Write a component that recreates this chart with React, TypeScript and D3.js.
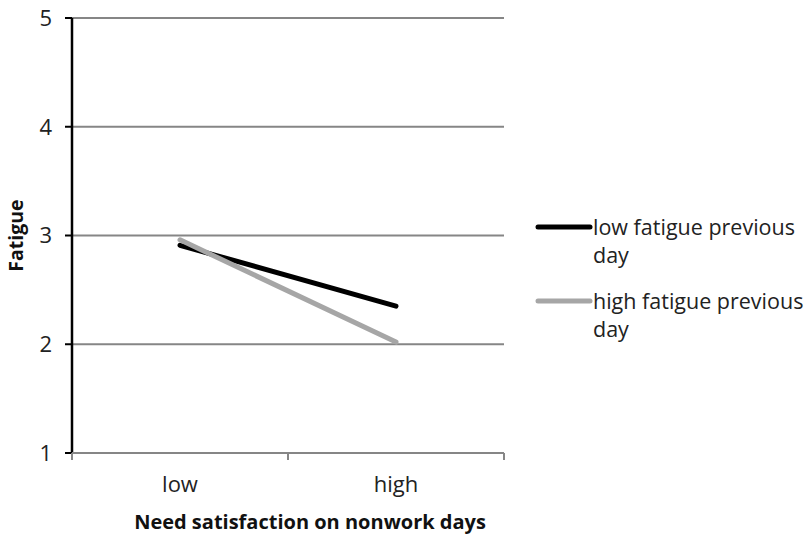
import React from "react";
import * as d3 from "d3";

const categories = ["low", "high"];
const seriesNames = ["low fatigue previous day", "high fatigue previous day"];
const lowFatigueValues = [2.91, 2.35];
const highFatigueValues = [2.96, 2.02];
const yTicks = [1, 2, 3, 4, 5];
const legendLines = [["low fatigue previous", "day"], ["high fatigue previous", "day"]];
const colors = ["#000000", "#a6a6a6"];

const W = 805, H = 538;
const FONT = "'Open Sans', sans-serif";

export default function App() {
  const left = 72, right = 504, top = 18, bottom = 453;
  const y = d3.scaleLinear().domain([1, 5]).range([bottom, top]);
  const x = d3.scaleBand().domain(categories).range([left, right]).padding(0);
  const cx = (c: string) => (x(c) as number) + x.bandwidth() / 2;
  const line = d3.line<[string, number]>().x(d => cx(d[0])).y(d => y(d[1]));
  const series = [lowFatigueValues, highFatigueValues];
  const xTickPos = [left, left + x.bandwidth(), right];

  return (
    <svg width={W} height={H} style={{ position: "absolute", left: 0, top: 0, background: "#fff" }} fontFamily={FONT}>
      {yTicks.filter(t => t > 1).map(t => (
        <line key={t} x1={left} x2={right} y1={y(t)} y2={y(t)} stroke="#868686" strokeWidth={2} />
      ))}
      <line x1={left} x2={left} y1={top} y2={bottom} stroke="#000" strokeWidth={2.5} />
      {yTicks.map(t => (
        <g key={t}>
          <line x1={left - 7} x2={left} y1={y(t)} y2={y(t)} stroke="#000" strokeWidth={2} />
          <text x={52} y={y(t)} dy="0.36em" textAnchor="end" fontSize={22} fill="#222">{t}</text>
        </g>
      ))}
      <line x1={left} x2={right} y1={bottom} y2={bottom} stroke="#868686" strokeWidth={2} />
      {xTickPos.map((p, i) => (
        <line key={i} x1={p} x2={p} y1={bottom} y2={bottom + 7} stroke="#868686" strokeWidth={2} />
      ))}
      {categories.map(c => (
        <text key={c} x={cx(c)} y={492} textAnchor="middle" fontSize={22} fill="#222">{c}</text>
      ))}
      <text x={310} y={529} textAnchor="middle" fontSize={20} fontWeight="bold" fill="#111">Need satisfaction on nonwork days</text>
      <text transform={`translate(23,${(top + bottom) / 2}) rotate(-90)`} textAnchor="middle" fontSize={19.5} fontWeight="bold" fill="#111">Fatigue</text>
      {series.map((vals, i) => (
        <path key={i} d={line(categories.map((c, j) => [c, vals[j]] as [string, number])) || ""} fill="none" stroke={colors[i]} strokeWidth={5} strokeLinecap="round" />
      ))}
      {seriesNames.map((n, i) => {
        const ly = 227 + i * 74;
        return (
          <g key={n}>
            <line x1={538} x2={590} y1={ly} y2={ly} stroke={colors[i]} strokeWidth={5} strokeLinecap="round" />
            <text x={593} y={ly + 8} fontSize={21.5} fill="#222">
              <tspan x={593}>{legendLines[i][0]}</tspan>
              <tspan x={593} dy={28}>{legendLines[i][1]}</tspan>
            </text>
          </g>
        );
      })}
    </svg>
  );
}
